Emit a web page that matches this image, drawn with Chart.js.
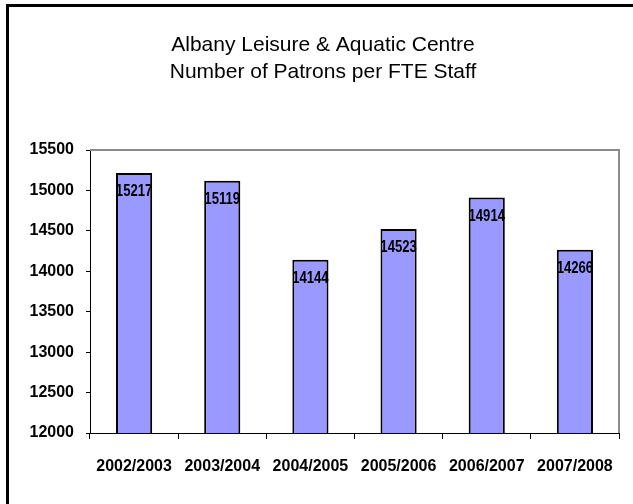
<!DOCTYPE html>
<html>
<head>
<meta charset="utf-8">
<script src="https://cdn.jsdelivr.net/npm/chart.js@4.4.1/dist/chart.umd.min.js"></script>
<style>
  body { margin: 0; background: #fff; }
  #wrap { position: relative; width: 633px; height: 504px; }
  #frame { position: absolute; left: 6px; top: 4px; width: 640px; height: 520px;
           border-left: 3px solid #000; border-top: 3px solid #000; }
  canvas { position: absolute; left: 0; top: 0; }
</style>
</head>
<body>
<div id="wrap">
  <div id="frame"></div>
  <canvas id="chart" width="633" height="504"></canvas>
</div>
<script>
// valori
let seasons = ["2002/2003", "2003/2004", "2004/2005", "2005/2006", "2006/2007", "2007/2008"];
let patrons = [15217, 15119, 14144, 14523, 14914, 14266];
let yMin = 12000;
let yMax = 15500;
let yStep = 500;
let titleLines = ["Albany Leisure & Aquatic Centre", "Number of Patrons per FTE Staff"];

// titlul, centrat pe cadru (nu pe zona graficului)
const titleText = {
  id: "titleText",
  afterDraw(chart) {
    const ctx = chart.ctx;
    ctx.save();
    ctx.fillStyle = "#000";
    ctx.font = "21px 'Liberation Sans', Arial, sans-serif";
    ctx.textAlign = "center";
    ctx.textBaseline = "middle";
    titleLines.forEach((t, i) => ctx.fillText(t, 323, 45 + i * 27));
    ctx.restore();
  },
};

// chenarul gri al zonei de desen
const plotBox = {
  id: "plotBox",
  beforeDatasetsDraw(chart) {
    const a = chart.chartArea;
    const ctx = chart.ctx;
    ctx.save();
    ctx.strokeStyle = "#8c8c8c";
    ctx.lineWidth = 2;
    ctx.beginPath();
    ctx.moveTo(a.left, a.top);
    ctx.lineTo(a.right, a.top);
    ctx.lineTo(a.right, a.bottom);
    ctx.stroke();
    ctx.restore();
  },
};

// etichetele din interiorul barelor
const barLabels = {
  id: "barLabels",
  afterDatasetsDraw(chart) {
    const ctx = chart.ctx;
    const meta = chart.getDatasetMeta(0);
    ctx.save();
    ctx.fillStyle = "#000";
    ctx.font = "bold 16px 'Liberation Sans', Arial, sans-serif";
    ctx.textAlign = "center";
    ctx.textBaseline = "middle";
    meta.data.forEach((bar, i) => {
      ctx.save();
      ctx.translate(bar.x, bar.y + 19);
      ctx.scale(0.82, 1);
      ctx.fillText(String(patrons[i]), 0, 0);
      ctx.restore();
    });
    ctx.restore();
  },
};

new Chart(document.getElementById("chart"), {
  type: "bar",
  data: {
    labels: seasons,
    datasets: [
      {
        data: patrons,
        backgroundColor: "#9999ff",
        borderColor: "#000",
        borderWidth: 2,
        barPercentage: 0.41,
        categoryPercentage: 1,
      },
    ],
  },
  options: {
    responsive: false,
    animation: false,
    layout: { padding: { left: 0, right: 14, top: 150, bottom: 0 } },
    plugins: {
      legend: { display: false },
      tooltip: { enabled: false },
      title: { display: false },
    },
    scales: {
      x: {
        offset: true,
        grid: { offset: true, drawOnChartArea: false, drawTicks: true, tickLength: 6, color: "#000", lineWidth: 1 },
        border: { color: "#000", width: 1 },
        ticks: {
          color: "#000",
          padding: 18,
          maxRotation: 0,
          font: { family: "'Liberation Sans', Arial, sans-serif", size: 16, weight: "bold" },
        },
        afterFit(scale) { scale.height = 71; },
      },
      y: {
        min: yMin,
        max: yMax,
        ticks: {
          stepSize: yStep,
          color: "#000",
          padding: 12,
          callback: (v) => String(v),
          font: { family: "'Liberation Sans', Arial, sans-serif", size: 16, weight: "bold" },
        },
        grid: { drawOnChartArea: false, drawTicks: true, tickLength: 4, color: "#000", lineWidth: 1 },
        border: { color: "#000", width: 1 },
        afterFit(scale) { scale.width = 90; },
      },
    },
  },
  plugins: [plotBox, barLabels, titleText],
});
</script>
</body>
</html>
